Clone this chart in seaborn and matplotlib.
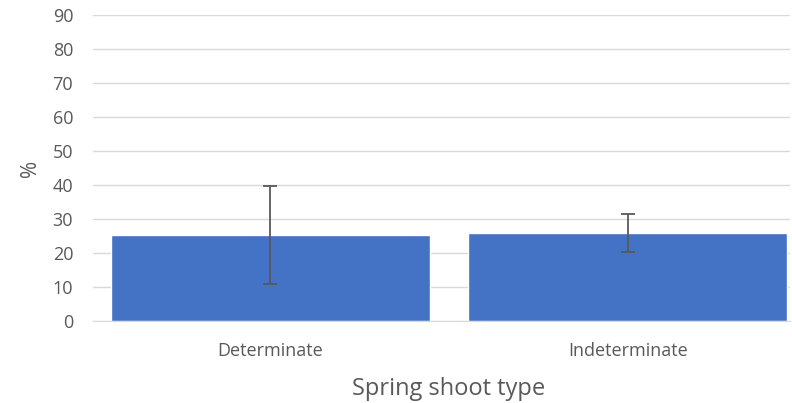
import pandas as pd
import numpy as np
import matplotlib
matplotlib.use('Agg')
import matplotlib.pyplot as plt
import seaborn as sns

# values
shoot_types = ['Determinate', 'Indeterminate']
percent = [25.3, 25.9]
err = [14.5, 5.6]

sns.set_style('white')
plt.rcParams['font.family'] = ['Open Sans', 'DejaVu Sans']

df = pd.DataFrame({'type': shoot_types, 'pct': percent})

fig = plt.figure(figsize=(7.92, 4.03), dpi=100)
ax = fig.add_axes([0.117, 0.203, 0.88, 0.76])

sns.barplot(data=df, x='type', y='pct', color='#4472C4', saturation=1,
            width=0.892, errorbar=None, ax=ax, zorder=2)
ax.errorbar(np.arange(len(shoot_types)), percent, yerr=err, fmt='none',
            ecolor='#595959', elinewidth=1.3, capsize=5, capthick=1.3, zorder=3)

ax.set_ylim(0, 90)
ax.set_yticks(range(0, 91, 10))
ax.set_xlim(-0.4965, 1.453)
ax.yaxis.grid(True, color='#d9d9d9', linewidth=1, zorder=0)
ax.set_axisbelow(True)
for s in ['top', 'right', 'left']:
    ax.spines[s].set_visible(False)
ax.spines['bottom'].set_color('#d9d9d9')
ax.tick_params(axis='both', length=0, labelsize=13, colors='#595959')
ax.tick_params(axis='x', pad=15)
ax.tick_params(axis='y', pad=14)
ax.set_xlabel('Spring shoot type', fontsize=17, color='#595959', labelpad=12)
ax.set_ylabel('%', fontsize=15, color='#595959', labelpad=8)
ax.xaxis.label.set_x(0.511)

fig.savefig('out.png', dpi=100)
